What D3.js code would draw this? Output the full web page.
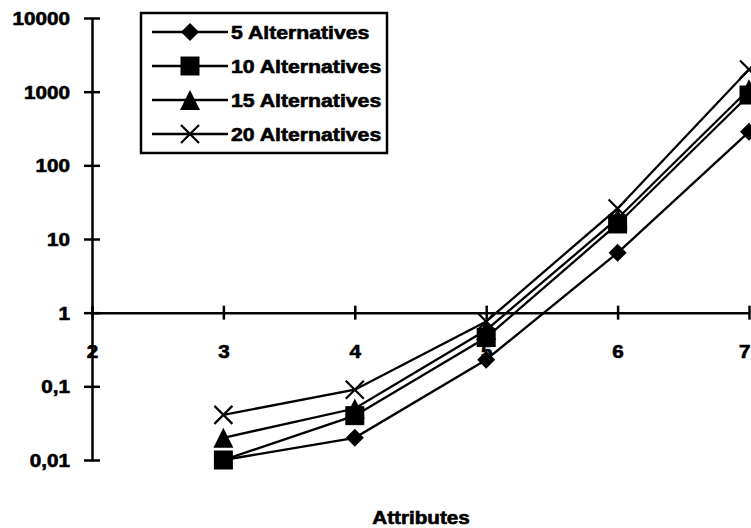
<!DOCTYPE html>
<html><head><meta charset="utf-8">
<script src="https://cdn.jsdelivr.net/npm/d3@7"></script>
<style>
html,body{margin:0;padding:0;background:#fff;}
svg{display:block;}
text{font-family:"Liberation Sans",Arial,sans-serif;font-weight:bold;fill:#000;stroke:#000;stroke-width:0.6px;}
</style></head>
<body>
<svg id="chart" width="751" height="528"></svg>
<script>
const attributes = [2, 3, 4, 5, 6, 7];
const seriesNames = ["5 Alternatives", "10 Alternatives", "15 Alternatives", "20 Alternatives"];
const alt5  = [null, 0.01, 0.02, 0.23, 6.5, 285];
const alt10 = [null, 0.01, 0.04, 0.46, 16, 900];
const alt15 = [null, 0.02, 0.05, 0.58, 19, 1080];
const alt20 = [null, 0.041, 0.09, 0.76, 26, 2000];
const yTicks = [0.01, 0.1, 1, 10, 100, 1000, 10000];
const yTickLabels = ["0,01", "0,1", "1", "10", "100", "1000", "10000"];
const xTitle = "Attributes";

const series = [alt5, alt10, alt15, alt20];
const shapes = ["diamond", "square", "triangle", "cross"];

const svg = d3.select("#chart");
const SX = 1.18;

const x = d3.scaleLinear().domain([2, 7]).range([92, 749]);
const y = d3.scaleLog().domain([0.01, 10000]).range([460, 18]);

function markerPath(shape) {
  const p = d3.path();
  if (shape === "diamond") { const r = 9; p.moveTo(0,-r); p.lineTo(r,0); p.lineTo(0,r); p.lineTo(-r,0); p.closePath(); }
  else if (shape === "square") { const r = 9.5; p.rect(-r,-r,2*r,2*r); }
  else if (shape === "triangle") { const r = 10; p.moveTo(0,-r); p.lineTo(r,r); p.lineTo(-r,r); p.closePath(); }
  else { const r = 9; p.moveTo(-r,-r); p.lineTo(r,r); p.moveTo(r,-r); p.lineTo(-r,r); }
  return p.toString();
}
function drawMarker(g, shape, cx, cy) {
  const m = g.append("path").attr("d", markerPath(shape)).attr("transform", `translate(${cx},${cy})`);
  if (shape === "cross") m.attr("fill", "none").attr("stroke", "#000").attr("stroke-width", 2.2);
  else m.attr("fill", "#000").attr("stroke", "none");
}

// Y axis
const yAxis = d3.axisLeft(y).tickValues(yTicks).tickSize(0).tickFormat((d,i) => yTickLabels[i]);
const yg = svg.append("g").attr("transform", `translate(${x(2)},0)`).call(yAxis);
yg.select(".domain").attr("stroke", "#000").attr("stroke-width", 2.5);
yg.selectAll(".tick line").remove();
yg.selectAll(".tick").append("line").attr("x1", -8).attr("x2", 8).attr("stroke", "#000").attr("stroke-width", 2.5);
yg.selectAll(".tick text").attr("x", -22 / SX).attr("dy", "0.37em").attr("transform", `scale(${SX},1)`)
  .style("font-size", "17.5px").attr("font-family", null).attr("font-size", null);

// X axis at y=1
const xAxis = d3.axisBottom(x).tickValues(attributes).tickSize(0).tickFormat(d3.format("d"));
const xg = svg.append("g").attr("transform", `translate(0,${y(1)})`).call(xAxis);
xg.select(".domain").attr("stroke", "#000").attr("stroke-width", 2.5);
xg.selectAll(".tick line").remove();
xg.selectAll(".tick").append("line").attr("y1", -7).attr("y2", 7).attr("stroke", "#000").attr("stroke-width", 2.5);
xg.selectAll(".tick text").attr("y", 45).attr("dy", 0).attr("transform", `scale(${SX},1)`)
  .style("font-size", "17.5px").attr("font-family", null).attr("font-size", null);
// keep the last label inside the page edge
xg.selectAll(".tick text").filter(d => d === 7).attr("text-anchor", "end").attr("x", 1 / SX);

// X title
svg.append("text").attr("transform", `translate(421,524) scale(${SX},1)`).attr("text-anchor", "middle")
  .style("font-size", "17.5px").text(xTitle);

// series
const line = d3.line().defined(d => d.v != null).x(d => x(d.a)).y(d => y(d.v));
series.forEach((vals, si) => {
  const pts = attributes.map((a, i) => ({a, v: vals[i]}));
  const g = svg.append("g");
  g.append("path").datum(pts).attr("d", line).attr("fill", "none").attr("stroke", "#000").attr("stroke-width", 2.3);
  pts.filter(d => d.v != null).forEach(d => drawMarker(g, shapes[si], x(d.a), y(d.v)));
});

// legend
const lg = svg.append("g");
lg.append("rect").attr("x", 141).attr("y", 13).attr("width", 246).attr("height", 140)
  .attr("fill", "#fff").attr("stroke", "#000").attr("stroke-width", 2.5);
const rowY = [32, 66, 100, 134];
seriesNames.forEach((name, i) => {
  lg.append("line").attr("x1", 152).attr("x2", 228).attr("y1", rowY[i]).attr("y2", rowY[i]).attr("stroke", "#000").attr("stroke-width", 2.3);
  drawMarker(lg, shapes[i], 190, rowY[i]);
  lg.append("text").attr("transform", `translate(231,${rowY[i] + 6.5}) scale(${SX},1)`)
    .style("font-size", "18px").text(name);
});
</script>
</body></html>
